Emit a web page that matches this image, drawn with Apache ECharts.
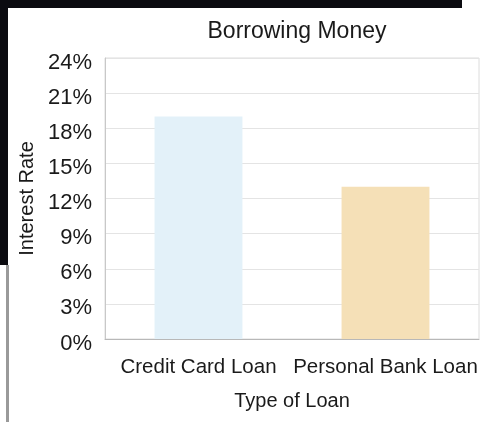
<!DOCTYPE html>
<html>
<head>
<meta charset="utf-8">
<script src="https://cdn.jsdelivr.net/npm/echarts@6/dist/echarts.min.js"></script>
<style>
  html, body { margin: 0; padding: 0; background: #fff; }
  #chart { width: 492px; height: 422px; }
</style>
</head>
<body>
<div id="chart"></div>
<script>
const categories = ['Credit Card Loan', 'Personal Bank Loan'];
const interestRates = [19, 13];
const barColors = ['#e3f1f9', '#f5e0b7'];
const titleText = 'Borrowing Money';
const yAxisName = 'Interest Rate';
const xAxisName = 'Type of Loan';

const FONT = "'Liberation Sans', Arial, sans-serif";
const chart = echarts.init(document.getElementById('chart'), null, { renderer: 'canvas' });

chart.setOption({
  backgroundColor: '#ffffff',
  animation: false,
  title: {
    text: titleText,
    left: 292,
    textAlign: 'center',
    top: 15,
    textStyle: { fontFamily: FONT, fontSize: 23, fontWeight: 'normal', color: '#1a1a1a' }
  },
  graphic: [
    { type: 'rect', shape: { x: 0, y: 0, width: 462, height: 8 }, style: { fill: '#0b0b10' }, z: 100 },
    { type: 'rect', shape: { x: 0, y: 0, width: 8, height: 265 }, style: { fill: '#0b0b10' }, z: 100 },
    { type: 'rect', shape: { x: 6, y: 265, width: 3, height: 157 }, style: { fill: '#9a9a9a' }, z: 100 }
  ],
  grid: {
    left: 105, right: 13, top: 58, bottom: 83,
    show: true, borderColor: '#dcdcdc', borderWidth: 1, backgroundColor: 'transparent'
  },
  xAxis: {
    type: 'category',
    data: categories,
    name: xAxisName,
    nameLocation: 'middle',
    nameGap: 52,
    nameTextStyle: { fontFamily: FONT, fontSize: 20, color: '#1a1a1a' },
    axisLine: { show: true, lineStyle: { color: '#b8b8b8', width: 1 } },
    axisTick: { show: false },
    axisLabel: { fontFamily: FONT, fontSize: 20.5, color: '#1a1a1a', margin: 18, interval: 0 }
  },
  yAxis: {
    type: 'value',
    min: 0, max: 24, interval: 3,
    name: yAxisName,
    nameLocation: 'middle',
    nameRotate: 90,
    nameGap: 68,
    nameTextStyle: { fontFamily: FONT, fontSize: 20, color: '#1a1a1a' },
    axisLine: { show: true, lineStyle: { color: '#c8c8c8', width: 1 } },
    axisTick: { show: false },
    splitLine: { show: true, lineStyle: { color: '#e4e4e4', width: 1 } },
    axisLabel: {
      margin: 13,
      formatter: v => '{a|' + v + '%}',
      rich: {
        a: { fontFamily: FONT, fontSize: 22, color: '#1a1a1a', padding: [9, 0, 0, 0] }
      }
    }
  },
  series: [{
    type: 'bar',
    barWidth: '47%',
    data: interestRates.map((v, i) => ({ value: v, itemStyle: { color: barColors[i] } }))
  }]
});
</script>
</body>
</html>
